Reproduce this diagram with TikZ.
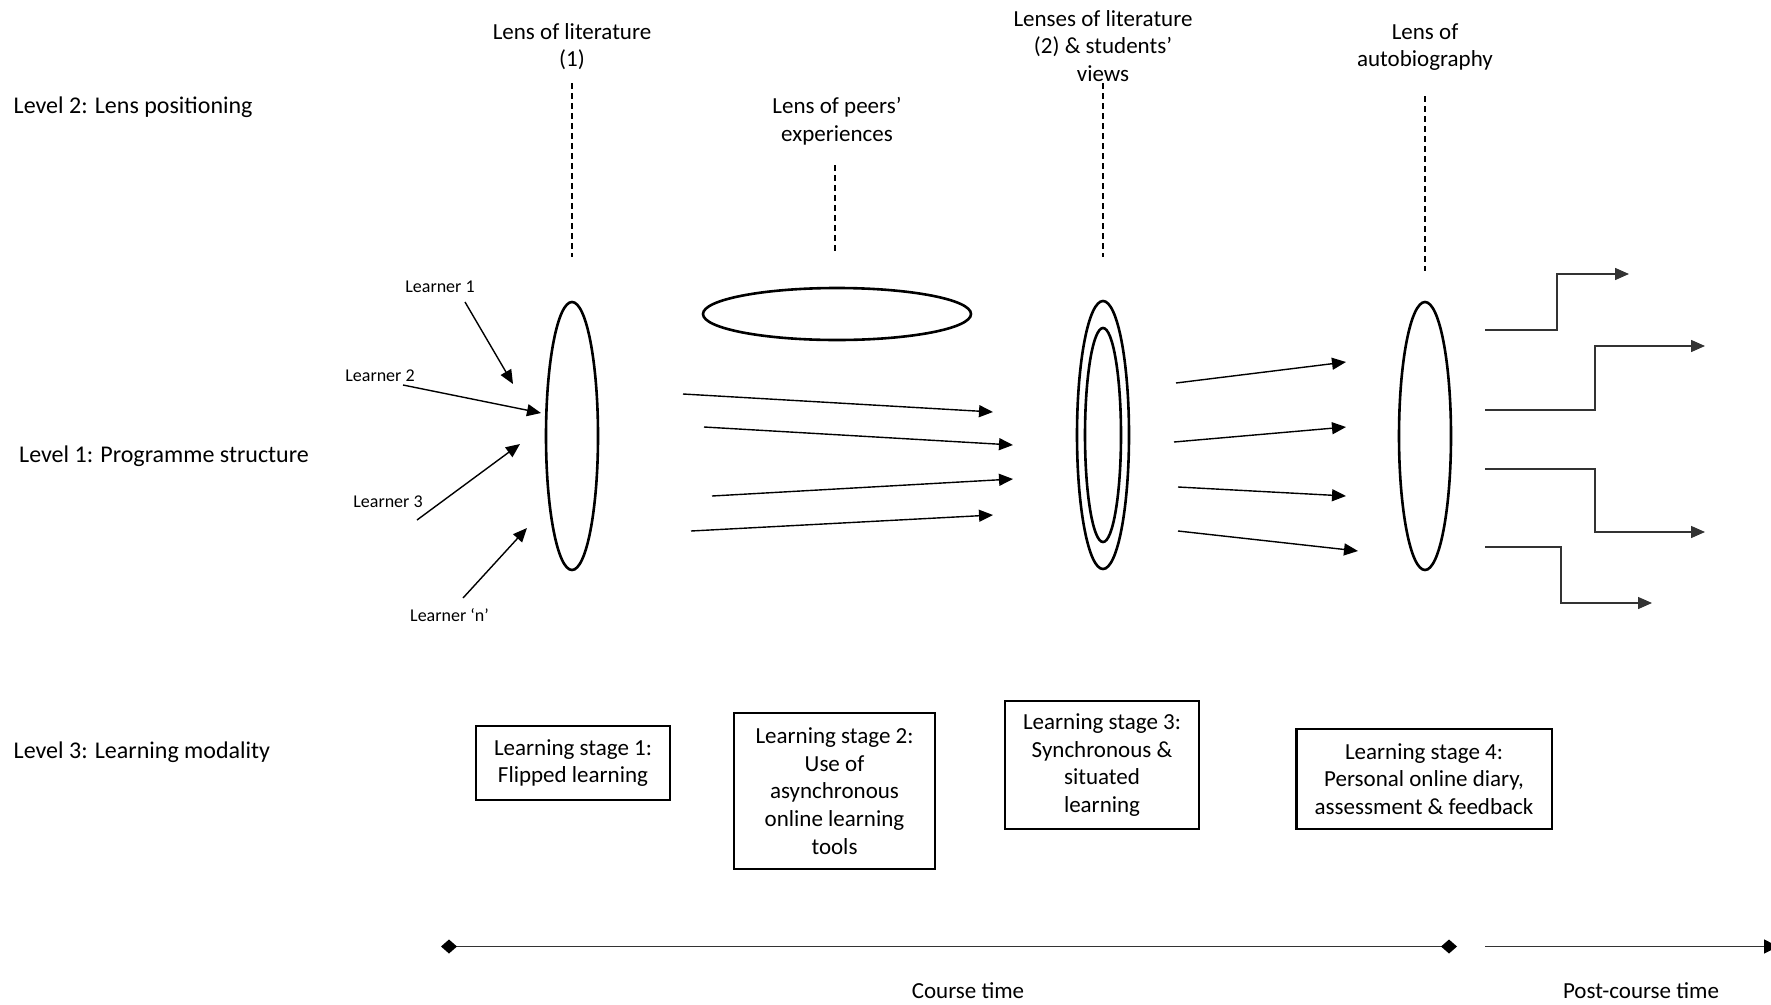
\documentclass[tikz,border=0pt]{standalone}
\usepackage{fontspec}
\setmainfont{Carlito}
\usetikzlibrary{shapes.geometric,
                arrows.meta,
                positioning}
\tikzset{lens/.style =
   {ellipse,
    draw,
    inner sep=0pt,
    line width=2.6pt,
    minimum width=52pt,
    minimum height=268pt}}
\tikzset{stage/.style =
   {rectangle,
    draw,
    line width=2.4pt,
    align=center,
    font=\fontsize{23}{27.7}\selectfont}}
\tikzset{caption/.style =
   {align=center,
    font=\fontsize{23}{27.5}\selectfont}}
\tikzset{level/.style =
   {anchor=west,
    inner sep=0pt,
    font=\fontsize{24}{28}\selectfont}}
\tikzset{learner/.style = {font=\fontsize{18}{21}\selectfont}}
\tikzset{arrow/.style = {draw, line width=1.4pt, -{Triangle[length=14pt,width=12pt]}}}
\tikzset{steparrow/.style = {arrow, black!80}}
\tikzset{lensline/.style = {draw, line width=1.3pt, dash pattern=on 6pt off 4pt}}
\tikzset{timeline/.style = {draw, black!80, line width=1.6pt}}
\tikzset{timetick/.tip = {Diamond[length=16pt,width=14pt,black]}}

\begin{document}
\begin{tikzpicture}[x=1pt, y=-1pt]

    \useasboundingbox (0,0) rectangle (1771,1004);

    \node [level] (lvl2) at (13.5,107.5) {Level 2: Lens positioning};
    \node [level] (lvl1) at (19,456.5) {Level 1: Programme structure};
    \node [level] (lvl3) at (13.5,752.5) {Level 3: Learning modality};

    \node [lens] (lensA) at (572,436) {};
    \node [lens,
           minimum width=268pt,
           minimum height=52pt] (lensB) at (837,314) {};
    \node [lens] (lensC) at (1103,435) {};
    \node [lens,
           minimum width=36pt,
           minimum height=214pt] (lensCin) at (lensC.center) {};
    \node [lens] (lensD) at (1425,436) {};

    \node [caption] (litA) at (572,46.5) {Lens of literature\\(1)};
    \node [caption] (peers) at (837,121) {Lens of peers’\\experiences};
    \node [caption] (litB) at (1103,46) {Lenses of literature\\(2) \& students’\\views};
    \node [caption] (auto) at (1425,47) {Lens of\\autobiography};

    \foreach \c/\x/\ya/\yb in {A/572/83/257, B/835/165/253, C/1103/83/257, D/1425/96/271}
      {\coordinate (top\c) at (\x,\ya);
       \coordinate (bot\c) at (\x,\yb);
       \draw [lensline] (top\c) -- (bot\c);}

    \node [learner] (l1) at (440,287) {Learner 1};
    \node [learner] (l2) at (380,376) {Learner 2};
    \node [learner] (l3) at (388,502) {Learner 3};
    \node [learner] (ln) at (449.5,615.5) {Learner ‘n’};

    \foreach \s/\x/\y/\u/\v in {1/465/302/513/384, 2/403/385/541/413,
                                3/417/520/520/444, n/463/598/527/528}
      {\coordinate (from\s) at (\x,\y);
       \coordinate (in\s) at (\u,\v);
       \draw [arrow] (from\s) -- (in\s);}

    \foreach \s/\x/\y/\u/\v in {1/683/394/993/412, 2/704/427/1013/445,
                                3/712/496/1013/479, 4/691/531/993/515}
      {\coordinate (mid\s) at (\x,\y);
       \coordinate (midend\s) at (\u,\v);
       \draw [arrow] (mid\s) -- (midend\s);}

    \foreach \s/\x/\y/\u/\v in {1/1176/383/1346/362, 2/1174/442/1346/427,
                                3/1178/487/1346/496, 4/1178/531/1358/551}
      {\coordinate (post\s) at (\x,\y);
       \coordinate (postend\s) at (\u,\v);
       \draw [arrow] (post\s) -- (postend\s);}

    \foreach \s/\y/\xb/\yb/\xc in {1/330/1557/274/1629, 2/410/1595/346/1705,
                                   3/469/1595/532/1705, 4/547/1561/603/1652}
      {\coordinate (out\s) at (1485,\y);
       \coordinate (turn\s) at (\xb,\yb);
       \coordinate (exit\s) at (\xc,\yb);
       \draw [steparrow] (out\s) -| (turn\s) -- (exit\s);}

    \node [stage,
           minimum width=194.5pt,
           minimum height=74pt] (stage1) at (573,763)
          {Learning stage 1:\\Flipped learning};
    \node [stage,
           minimum width=201pt,
           minimum height=155.6pt] (stage2) at (834.5,791)
          {Learning stage 2:\\Use of\\asynchronous\\online learning\\tools};
    \node [stage,
           minimum width=194.5pt,
           minimum height=128pt] (stage3) at (1102,765)
          {Learning stage 3:\\Synchronous \&\\situated\\learning};
    \node [stage,
           minimum width=255.4pt,
           minimum height=100.5pt] (stage4) at (1424,779)
          {Learning stage 4:\\Personal online diary,\\assessment \& feedback};

    \coordinate (course0) at (441,946.5);
    \coordinate (course1) at (1457,946.5);
    \coordinate (after0) at (1485,946.5);
    \coordinate (after1) at (1778,946.5);
    \draw [timeline, timetick-timetick] (course0) -- (course1);
    \draw [timeline, -{Triangle[length=14pt,width=14pt,black]}] (after0) -- (after1);

    \node [caption] (course) at (968,991) {Course time};
    \node [caption] (after) at (1641,991) {Post-course time};

\end{tikzpicture}
\end{document}
